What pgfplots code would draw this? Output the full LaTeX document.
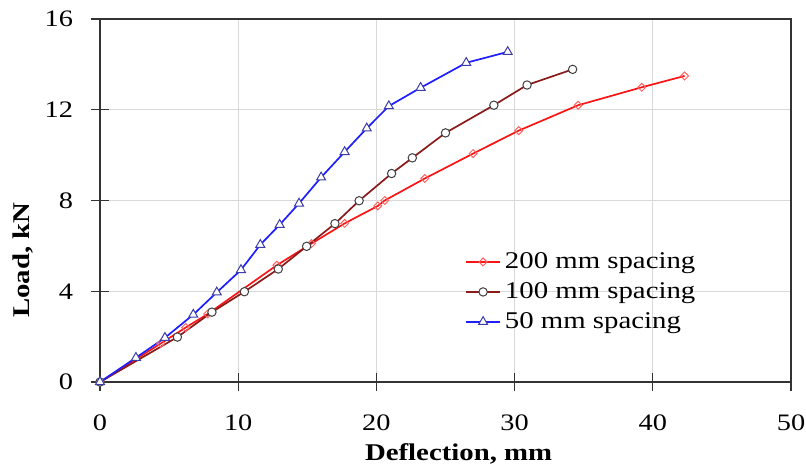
\documentclass[border=0pt]{standalone}
\usepackage{fontspec}
\setmainfont{Liberation Serif}[FakeStretch=1.2]
\usepackage{pgfplots}
\pgfplotsset{compat=1.18}

\definecolor{lred}{RGB}{250,20,20}
\definecolor{dred}{RGB}{139,26,26}
\definecolor{lblue}{RGB}{30,30,255}
\definecolor{dmark}{RGB}{255,100,100}
\definecolor{cmark}{RGB}{64,64,64}
\definecolor{tmark}{RGB}{60,60,170}
\definecolor{gridgray}{RGB}{217,217,217}

\begin{document}
\begin{tikzpicture}
\begin{axis}[
  name=ax,
  scale only axis,
  width=345.5pt, height=181.5pt,
  xmin=0, xmax=50, ymin=0, ymax=16,
  xtick={0,10,...,50}, ytick={0,4,...,16},
  xtick pos=bottom, ytick pos=left,
  tick align=center,
  major tick length=9pt,
  tick style={line width=0.6pt, black!80},
  axis line style={line width=0.9pt, black!80},
  grid=major,
  grid style={line width=0.6pt, gridgray},
  /pgf/number format/assume math mode=true,
  tick label style={font=\fontsize{11.8}{14}\selectfont},
  xticklabel style={yshift=-8.5pt},
  yticklabel style={xshift=-5.5pt},
  xlabel={Deflection, mm},
  ylabel={Load, kN},
  label style={font=\fontsize{12}{14}\selectfont\bfseries},
  xlabel style={at={(axis description cs:0.519,0)}, anchor=base, yshift=-39pt},
  ylabel style={at={(axis description cs:-0.1114,0.336)}, anchor=center},
  legend style={at={(axis cs:26.4,3.97)}, anchor=west, draw=none, fill=none,
    inner sep=0pt, row sep=5.5pt,
    font=\fontsize{12}{14}\selectfont,
    nodes={inner ysep=0pt, inner xsep=2pt}},
  legend cell align=left,
  legend image code/.code={\draw[mark repeat=2,mark phase=2,#1] plot coordinates {(0pt,0pt)(8.5pt,0pt)(17pt,0pt)};},
]
\addplot[lred, line width=0.85pt, mark=square, mark size=1.4pt,
  mark options={rotate=45, draw=dmark, fill=white, line width=0.5pt, solid}] coordinates {
  (0,0)(4.4,1.7)(6.2,2.4)(7.8,3.0)(12.8,5.15)(15.3,6.1)(17.7,6.99)(20.1,7.76)
  (20.6,8.0)(23.5,8.97)(27.0,10.07)(30.3,11.08)(34.6,12.2)(39.2,12.99)(42.3,13.49)};
\addlegendentry{200 mm spacing}
\addplot[dred, line width=0.85pt, mark=*, mark size=2.1pt,
  mark options={draw=cmark, fill=white, line width=0.5pt, solid}] coordinates {
  (0,0)(5.6,1.98)(8.1,3.08)(10.45,3.98)(12.9,4.98)(14.95,5.98)(17.0,6.98)
  (18.75,7.99)(21.1,9.19)(22.6,9.88)(25.0,10.98)(28.5,12.2)(30.9,13.09)(34.2,13.78)};
\addlegendentry{100 mm spacing}
\addplot[lblue, line width=0.85pt, mark=triangle*, mark size=2.6pt,
  mark options={draw=tmark, fill=white, line width=0.5pt, solid}] coordinates {
  (0,0)(2.6,1.07)(4.7,1.95)(6.75,2.97)(8.45,3.95)(10.2,4.94)(11.6,6.05)(13.0,6.93)
  (14.4,7.87)(16.0,9.02)(17.7,10.14)(19.3,11.18)(20.9,12.16)(23.2,12.97)(26.5,14.07)(29.5,14.55)};
\addlegendentry{50 mm spacing}
\end{axis}
\pgfresetboundingbox
\path[use as bounding box] ([xshift=-50pt,yshift=-41.5pt]ax.south west) rectangle ([xshift=7.5pt,yshift=9.5pt]ax.north east);
\end{tikzpicture}
\end{document}
